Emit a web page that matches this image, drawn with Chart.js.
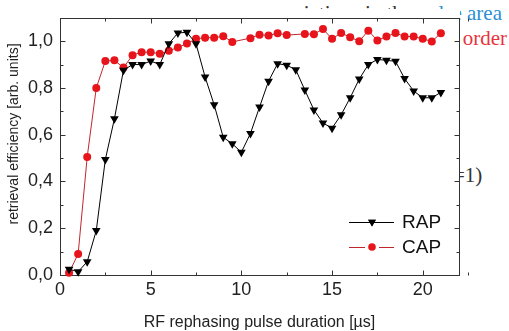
<!DOCTYPE html>
<html>
<head>
<meta charset="utf-8">
<script src="https://cdn.jsdelivr.net/npm/chart.js@4/dist/chart.umd.min.js"></script>
<style>
  html, body { margin: 0; padding: 0; background: #fff; }
  #wrap { position: relative; width: 509px; height: 331px; overflow: hidden; }
  #chart { position: absolute; left: 0; top: 0; z-index: 2; }
  .bg { position: absolute; font-family: "Liberation Serif", serif; font-size: 21px; line-height: 21px; white-space: nowrap; z-index: 1; }
</style>
</head>
<body>
<div id="wrap">
  <div class="bg" style="right:7px; top:3px; color:#333">variations in the <span style="color:#2b8fd4">pulse area</span></div>
  <div class="bg" style="right:2px; top:28px; color:#e8333c">order</div>
  <div class="bg" style="left:453px; top:165px; color:#333">=1)</div>
  <canvas id="chart" width="509" height="331"></canvas>
</div>
<script>
// pulse duration in µs
const rapTimes = [0.5, 1, 1.5, 2, 2.5, 3, 3.5, 4, 4.5, 5, 5.5, 6, 6.5, 7, 7.5, 8, 8.5, 9, 9.5, 10,
  10.5, 11, 11.5, 12, 12.5, 13, 13.5, 14, 14.5, 15, 15.5, 16, 16.5, 17, 17.5, 18, 18.5, 19, 19.5, 20, 20.5, 21];
const rapValues = [0.025, 0.014, 0.057, 0.19, 0.494, 0.668, 0.876, 0.90, 0.90, 0.915, 0.90, 0.989, 1.035, 1.038, 0.989, 0.847, 0.728, 0.589, 0.561, 0.525,
  0.605, 0.718, 0.829, 0.904, 0.897, 0.878, 0.791, 0.706, 0.65, 0.628, 0.685, 0.758, 0.838, 0.90, 0.922, 0.918, 0.914, 0.84, 0.787, 0.758, 0.758, 0.781];

const capTimes = [0.5, 1, 1.5, 2, 2.5, 3, 3.5, 4, 4.5, 5, 5.5, 6, 6.5, 7, 7.5, 8, 8.5, 9, 9.5,
  10.5, 11, 11.5, 12, 12.5, 13.5, 14, 14.5, 15, 15.5, 16, 16.5, 17, 17.5, 18, 18.5, 19, 19.5, 20, 20.5, 21];
const capValues = [0.01, 0.09, 0.505, 0.80, 0.915, 0.918, 0.887, 0.94, 0.953, 0.953, 0.946, 0.959, 0.973, 0.99, 1.01, 1.015, 1.015, 1.021, 0.997,
  1.013, 1.028, 1.024, 1.034, 1.026, 1.031, 1.03, 1.052, 1.01, 1.035, 1.017, 1.0, 1.045, 1.003, 1.02, 1.035, 1.02, 1.02, 1.01, 0.999, 1.034];

const xTicks = [0, 5, 10, 15, 20];
const yTicks = [0, 0.2, 0.4, 0.6, 0.8, 1.0];
const xMinorStep = 2.5;
const yMinorStep = 0.1;

const FONT = '"Liberation Sans", Arial, sans-serif';
const RAP_COLOR = '#000';
const CAP_COLOR = '#e8141b';
const CAP_LINE = '#c0282d';

function toPoints(xs, ys) {
  return xs.map((x, i) => ({ x: x, y: ys[i] }));
}

// axes box with inward ticks, legend and y title
const frame = {
  id: 'frame',
  beforeDraw(chart) {
    const ctx = chart.ctx;
    ctx.save();
    ctx.fillStyle = '#fff';
    ctx.fillRect(6, 9, 454, 331);
    ctx.restore();
  },
  beforeDatasetsDraw(chart) {
    const { ctx, chartArea: a, scales: { x, y } } = chart;
    const L = Math.round(a.left) + 0.5, R = Math.round(a.right) + 0.5;
    const T = Math.round(a.top) + 0.5, B = Math.round(a.bottom) + 0.5;
    ctx.save();
    ctx.strokeStyle = '#333';
    ctx.lineWidth = 1;
    ctx.strokeRect(L, T, R - L, B - T);
    ctx.beginPath();
    const nx = Math.round(x.max / xMinorStep);
    for (let i = 0; i <= nx; i++) {
      const px = Math.round(x.getPixelForValue(i * xMinorStep)) + 0.5;
      const len = i % 2 === 0 ? 5 : 3;
      ctx.moveTo(px, B); ctx.lineTo(px, B - len);
      ctx.moveTo(px, T); ctx.lineTo(px, T + len);
    }
    const ny = Math.round(y.max / yMinorStep);
    for (let i = 0; i <= ny; i++) {
      const py = Math.round(y.getPixelForValue(i * yMinorStep)) + 0.5;
      const len = i % 2 === 0 ? 5 : 3;
      ctx.moveTo(L, py); ctx.lineTo(L + len, py);
      ctx.moveTo(R, py); ctx.lineTo(R - len, py);
    }
    ctx.stroke();
    ctx.restore();
  },
  afterDraw(chart) {
    const { ctx, chartArea: a } = chart;
    ctx.save();
    // y title
    ctx.translate(14, 134);
    ctx.rotate(-Math.PI / 2);
    ctx.fillStyle = '#222';
    ctx.font = '14px ' + FONT;
    ctx.textAlign = 'center';
    ctx.textBaseline = 'middle';
    ctx.fillText('retrieval efficiency [arb. units]', 0, 0);
    ctx.restore();

    // legend
    const lx = a.right - 110, ly = a.bottom - 53;
    ctx.save();
    ctx.lineWidth = 1;
    ctx.strokeStyle = RAP_COLOR;
    ctx.beginPath();
    ctx.moveTo(lx, ly + 0.5); ctx.lineTo(lx + 45, ly + 0.5);
    ctx.stroke();
    Chart.helpers.drawPoint(ctx, { pointStyle: 'triangle', radius: 4.5, rotation: 180, borderWidth: 0 }, lx + 23, ly);
    ctx.fillStyle = RAP_COLOR;
    ctx.fill();

    const cy = ly + 25;
    ctx.strokeStyle = CAP_LINE;
    ctx.beginPath();
    ctx.moveTo(lx, cy + 0.5); ctx.lineTo(lx + 16, cy + 0.5);
    ctx.moveTo(lx + 30, cy + 0.5); ctx.lineTo(lx + 45, cy + 0.5);
    ctx.stroke();
    ctx.fillStyle = CAP_COLOR;
    ctx.beginPath();
    ctx.arc(lx + 23, cy, 3.8, 0, Math.PI * 2);
    ctx.fill();

    ctx.fillStyle = '#111';
    ctx.font = '19px ' + FONT;
    ctx.textAlign = 'left';
    ctx.textBaseline = 'middle';
    ctx.fillText('RAP', lx + 53, ly + 1);
    ctx.fillText('CAP', lx + 53, cy + 1);
    ctx.restore();
  }
};

new Chart(document.getElementById('chart'), {
  type: 'line',
  data: {
    datasets: [
      {
        label: 'RAP',
        data: toPoints(rapTimes, rapValues),
        borderColor: RAP_COLOR,
        borderWidth: 1,
        pointStyle: 'triangle',
        rotation: 180,
        pointRadius: 5,
        pointBackgroundColor: RAP_COLOR,
        pointBorderWidth: 0,
        clip: false,
      },
      {
        label: 'CAP',
        data: toPoints(capTimes, capValues),
        borderColor: CAP_LINE,
        borderWidth: 1,
        pointStyle: 'circle',
        pointRadius: 4,
        pointBackgroundColor: CAP_COLOR,
        pointBorderWidth: 0,
        clip: false,
      },
    ],
  },
  options: {
    responsive: false,
    animation: false,
    events: [],
    layout: { padding: { top: 16, right: 50, left: 0, bottom: 0 } },
    scales: {
      x: {
        type: 'linear',
        min: 0,
        max: 22,
        grid: { display: false, drawTicks: false },
        border: { display: false },
        afterBuildTicks: s => { s.ticks = xTicks.map(v => ({ value: v })); },
        afterFit: s => { s.height = 56; },
        ticks: {
          padding: 4,
          color: '#222',
          font: { family: FONT, size: 18 },
          maxRotation: 0,
        },
        title: {
          display: true,
          text: 'RF rephasing pulse duration [µs]',
          color: '#222',
          font: { family: FONT, size: 16, lineHeight: 1 },
          padding: { top: 0, bottom: 0 },
        },
      },
      y: {
        min: 0,
        max: 1.1,
        grid: { display: false, drawTicks: false },
        border: { display: false },
        afterBuildTicks: s => { s.ticks = yTicks.map(v => ({ value: v })); },
        afterFit: s => { s.width = 60; },
        ticks: {
          padding: 7,
          color: '#222',
          font: { family: FONT, size: 18 },
          callback: v => v.toFixed(1).replace('.', ','),
        },
      },
    },
    plugins: {
      legend: { display: false },
      tooltip: { enabled: false },
    },
  },
  plugins: [frame],
});
</script>
</body>
</html>
